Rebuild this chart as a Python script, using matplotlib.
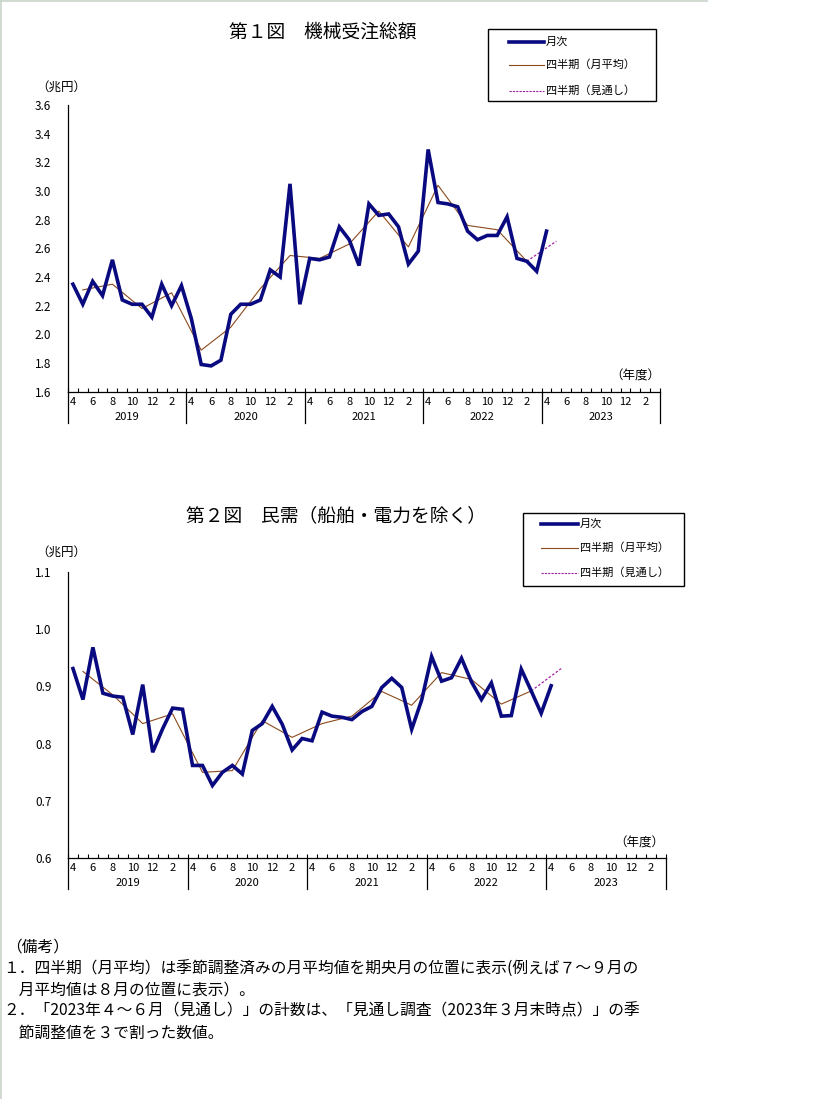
import matplotlib
matplotlib.use('Agg')
import matplotlib.pyplot as plt
import matplotlib.transforms as mtransforms
from matplotlib.lines import Line2D
from matplotlib.patches import Rectangle
import numpy as np

plt.rcParams['font.family'] = ['Noto Sans CJK JP', 'DejaVu Sans']

W, H = 819, 1099

years = ['2019', '2020', '2021', '2022', '2023']
month_labels = ['4', '6', '8', '10', '12', '2']
legend_labels = ['月次', '四半期（月平均）', '四半期（見通し）']

# 第1図 機械受注総額（兆円） 2019年4月～2023年4月
total_monthly = [2.35, 2.21, 2.37, 2.27, 2.52, 2.24, 2.21, 2.21, 2.12, 2.35, 2.20, 2.34,
                 2.11, 1.79, 1.78, 1.82, 2.14, 2.21, 2.21, 2.24, 2.45, 2.40, 3.05, 2.21,
                 2.53, 2.52, 2.54, 2.75, 2.66, 2.48, 2.91, 2.83, 2.84, 2.75, 2.49, 2.58,
                 3.29, 2.92, 2.91, 2.89, 2.72, 2.66, 2.69, 2.69, 2.82, 2.53, 2.51, 2.44,
                 2.72]
total_quarterly = [2.31, 2.35, 2.18, 2.29, 1.89, 2.05, 2.32, 2.55,
                   2.53, 2.63, 2.86, 2.61, 3.04, 2.76, 2.73, 2.51]
total_outlook = [2.51, 2.65]

# 第2図 民需（船舶・電力を除く）（兆円）
private_monthly = [0.931, 0.877, 0.968, 0.888, 0.883, 0.881, 0.816, 0.903, 0.785, 0.826, 0.862, 0.860,
                   0.762, 0.762, 0.727, 0.750, 0.762, 0.747, 0.823, 0.835, 0.865, 0.834, 0.789, 0.809,
                   0.805, 0.855, 0.848, 0.846, 0.842, 0.856, 0.865, 0.898, 0.914, 0.898, 0.825, 0.876,
                   0.952, 0.909, 0.915, 0.949, 0.908, 0.877, 0.906, 0.848, 0.849, 0.930, 0.892, 0.853,
                   0.901]
private_quarterly = [0.926, 0.885, 0.835, 0.852, 0.750, 0.753, 0.840, 0.811,
                     0.835, 0.848, 0.891, 0.867, 0.924, 0.912, 0.869, 0.892]
private_outlook = [0.892, 0.931]

notes = [
    '（備考）',
    '１．四半期（月平均）は季節調整済みの月平均値を期央月の位置に表示(例えば７～９月の',
    '　月平均値は８月の位置に表示）。',
    '２．「2023年４～６月（見通し）」の計数は、「見通し調査（2023年３月末時点）」の季',
    '　節調整値を３で割った数値。',
]

BLUE = '#0a0a80'
BROWN = '#8b4a1c'
PURPLE = '#a020a0'


def fx(x):
    return x / W


def fy(y):
    return 1 - y / H


fig = plt.figure(figsize=(W / 100, H / 100), dpi=100)

# thin page border
fig.add_artist(Line2D([fx(0.5), fx(0.5)], [0, 1], color='#c8d4c8', lw=1.2))
fig.add_artist(Line2D([0, fx(707)], [fy(0.5), fy(0.5)], color='#c8d4c8', lw=1.2))


def draw_chart(box, monthly, quarterly, outlook, ylim, ystep, yfmt, title, title_xy,
               legend_box, unit_xy, nendo_xy):
    left, top, right, bottom = box
    ax = fig.add_axes([fx(left), fy(bottom), fx(right - left), (bottom - top) / H])
    n = len(years) * 12
    xm = np.arange(len(monthly))
    xq = np.arange(len(quarterly)) * 3 + 1
    xo = [xq[-1], xq[-1] + 3]

    ax.plot(xq, quarterly, color=BROWN, lw=0.8, zorder=2)
    ax.plot(xo, outlook, color=PURPLE, lw=0.9, ls=(0, (2, 1.5)), zorder=2)
    ax.plot(xm, monthly, color=BLUE, lw=2.6, zorder=3, solid_joinstyle='miter')

    ax.set_xlim(-0.5, n - 0.5)
    ax.set_ylim(*ylim)
    ax.set_yticks(np.round(np.arange(ylim[0], ylim[1] + ystep / 2, ystep), 2))
    ax.yaxis.set_major_formatter(plt.FormatStrFormatter(yfmt))
    ax.tick_params(axis='y', length=0, pad=12, labelsize=8.5)
    ax.set_xticks(np.arange(-0.5, n, 1))
    ax.set_xticklabels([])
    ax.tick_params(axis='x', direction='in', length=3, width=0.8)
    for s in ['top', 'right']:
        ax.spines[s].set_visible(False)
    for s in ['left', 'bottom']:
        ax.spines[s].set_linewidth(0.9)

    trans = mtransforms.blended_transform_factory(ax.transData, ax.transAxes)
    hpx = bottom - top
    for k in range(len(years) + 1):
        ax.plot([k * 12 - 0.5] * 2, [0, -31 / hpx], color='black', lw=0.9,
                transform=trans, clip_on=False)
    for k, yr in enumerate(years):
        for j, lab in enumerate(month_labels):
            ax.text(k * 12 + j * 2, -10 / hpx, lab, transform=trans, ha='center',
                    va='center', fontsize=8)
        ax.text(k * 12 + 5.5, -25 / hpx, yr, transform=trans, ha='center',
                va='center', fontsize=8)

    fig.text(fx(title_xy[0]), fy(title_xy[1]), title, ha='center', va='center', fontsize=13.5)
    fig.text(fx(unit_xy[0]), fy(unit_xy[1]), '（兆円）', ha='center', va='center', fontsize=9)
    fig.text(fx(nendo_xy[0]), fy(nendo_xy[1]), '（年度）', ha='right', va='center', fontsize=9)

    # legend box
    lx0, ly0, lx1, ly1, hx0, hx1, rows = legend_box
    fig.add_artist(Rectangle((fx(lx0), fy(ly1)), fx(lx1 - lx0), (ly1 - ly0) / H,
                             fill=False, edgecolor='black', lw=1.0))
    styles = [dict(color=BLUE, lw=2.6), dict(color=BROWN, lw=0.8),
              dict(color=PURPLE, lw=0.8, ls=(0, (2, 1)))]
    for ry, st, lab in zip(rows, styles, legend_labels):
        fig.add_artist(Line2D([fx(hx0), fx(hx1)], [fy(ry), fy(ry)], **st))
        fig.text(fx(hx1 + 2), fy(ry), lab, ha='left', va='center', fontsize=8)
    return ax


draw_chart((68, 105, 660, 391.7), total_monthly, total_quarterly, total_outlook,
           (1.6, 3.6), 0.2, '%.1f', '第１図　機械受注総額', (323, 32),
           (488, 29, 656, 101, 509, 544, [42, 65, 91]), (61, 87), (660, 376))

draw_chart((68, 571.7, 665.7, 858.3), private_monthly, private_quarterly, private_outlook,
           (0.6, 1.1), 0.1, '%.1f', '第２図　民需（船舶・電力を除く）', (336, 516),
           (523, 513, 684, 586, 541, 578, [524, 548, 573]), (61, 552), (664, 843))

note_pos = [(6, 947), (3, 969), (3, 990), (3, 1011), (3, 1033)]
for (x, y), t in zip(note_pos, notes):
    fig.text(fx(x), fy(y), t, ha='left', va='center', fontsize=11.3)

fig.savefig('out.png', dpi=100)
